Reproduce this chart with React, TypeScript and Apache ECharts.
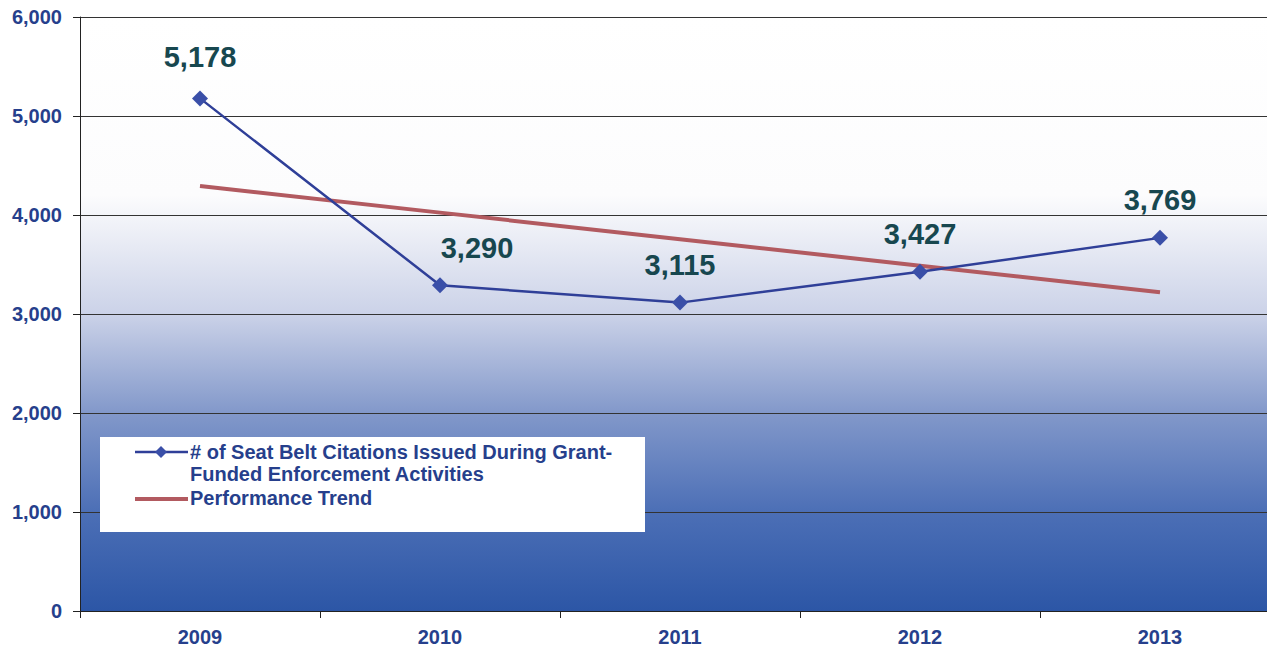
import React, { useEffect, useRef } from "react";
import * as echarts from "echarts";

const years = ["2009", "2010", "2011", "2012", "2013"];
const citations = [5178, 3290, 3115, 3427, 3769];
const trend = [4292, 4024, 3756, 3488, 3220];
const labelOffsets: [number, number][] = [[0, -4], [37, 0], [0, 0], [0, 0], [0, 0]];
const seriesNames = [
  "# of Seat Belt Citations Issued During Grant-\nFunded Enforcement Activities",
  "Performance Trend",
];

export default function App() {
  const ref = useRef<HTMLDivElement>(null);
  useEffect(() => {
    document.body.style.margin = "0";
    const chart = echarts.init(ref.current!, null, { renderer: "svg" });
    const font = "'Liberation Sans', Arial, sans-serif";
    const blue = "#2f3f98";
    const red = "#b25a60";
    chart.setOption({
      animation: false,
      grid: { left: 80, top: 17, width: 1200, height: 594, backgroundColor: {
        type: "linear", x: 0, y: 0, x2: 0, y2: 1,
        colorStops: [
          { offset: 0, color: "#ffffff" },
          { offset: 0.3, color: "#fcfcfd" },
          { offset: 0.5, color: "#cbd2e8" },
          { offset: 0.667, color: "#8298ca" },
          { offset: 0.833, color: "#4c6fb6" },
          { offset: 1, color: "#2c56a6" },
        ],
      }, show: true, borderWidth: 0 },
      xAxis: {
        type: "category",
        data: years,
        boundaryGap: true,
        axisLine: { lineStyle: { color: "#222", width: 1 } },
        axisTick: { show: true, length: 7, lineStyle: { color: "#222" } },
        axisLabel: { color: "#263f8c", fontFamily: font, fontWeight: "bold", fontSize: 20, margin: 16 },
      },
      yAxis: {
        type: "value",
        min: 0,
        max: 6000,
        interval: 1000,
        axisLine: { show: true, lineStyle: { color: "#222", width: 1 } },
        axisTick: { show: true, length: 7, lineStyle: { color: "#222" } },
        splitLine: { lineStyle: { color: "#333", width: 1 } },
        axisLabel: {
          color: "#263f8c", fontFamily: font, fontWeight: "bold", fontSize: 20, margin: 18,
          formatter: (v: number) => v.toLocaleString("en-US"),
        },
      },
      series: [
        {
          name: seriesNames[0],
          type: "line",
          data: citations.map((v, i) => ({
            value: v,
            label: { offset: labelOffsets[i] },
          })),
          symbol: "diamond",
          symbolSize: 16,
          lineStyle: { color: blue, width: 2.5 },
          itemStyle: { color: "#3a4fa8" },
          label: {
            show: true,
            position: "top",
            distance: 15,
            color: "#17474f",
            fontFamily: font,
            fontWeight: "bold",
            fontSize: 29,
            formatter: (p: any) => p.value.toLocaleString("en-US"),
          },
          z: 3,
        },
        {
          name: seriesNames[1],
          type: "line",
          data: trend,
          symbol: "none",
          lineStyle: { color: red, width: 4 },
          z: 2,
        },
      ],
      graphic: [
        { type: "rect", left: 100, top: 437, shape: { width: 545, height: 95 }, style: { fill: "#ffffff" }, z: 10 },
        { type: "line", shape: { x1: 135, y1: 452, x2: 188, y2: 452 }, style: { stroke: blue, lineWidth: 2.5 }, z: 11 },
        { type: "polygon", shape: { points: [[161, 446], [167, 452], [161, 458], [155, 452]] }, style: { fill: "#3a4fa8" }, z: 11 },
        { type: "line", shape: { x1: 135, y1: 499, x2: 188, y2: 499 }, style: { stroke: red, lineWidth: 4 }, z: 11 },
        { type: "text", left: 190, top: 441, style: { text: seriesNames[0], fill: "#263f8c", font: `bold 20px ${font}`, lineHeight: 22 }, z: 11 },
        { type: "text", left: 190, top: 488, style: { text: seriesNames[1], fill: "#263f8c", font: `bold 20px ${font}` }, z: 11 },
      ],
    });
    return () => chart.dispose();
  }, []);
  return (
    <div style={{ width: 1267, height: 652, overflow: "hidden" }}>
      <div ref={ref} style={{ width: 1290, height: 652 }} />
    </div>
  );
}
